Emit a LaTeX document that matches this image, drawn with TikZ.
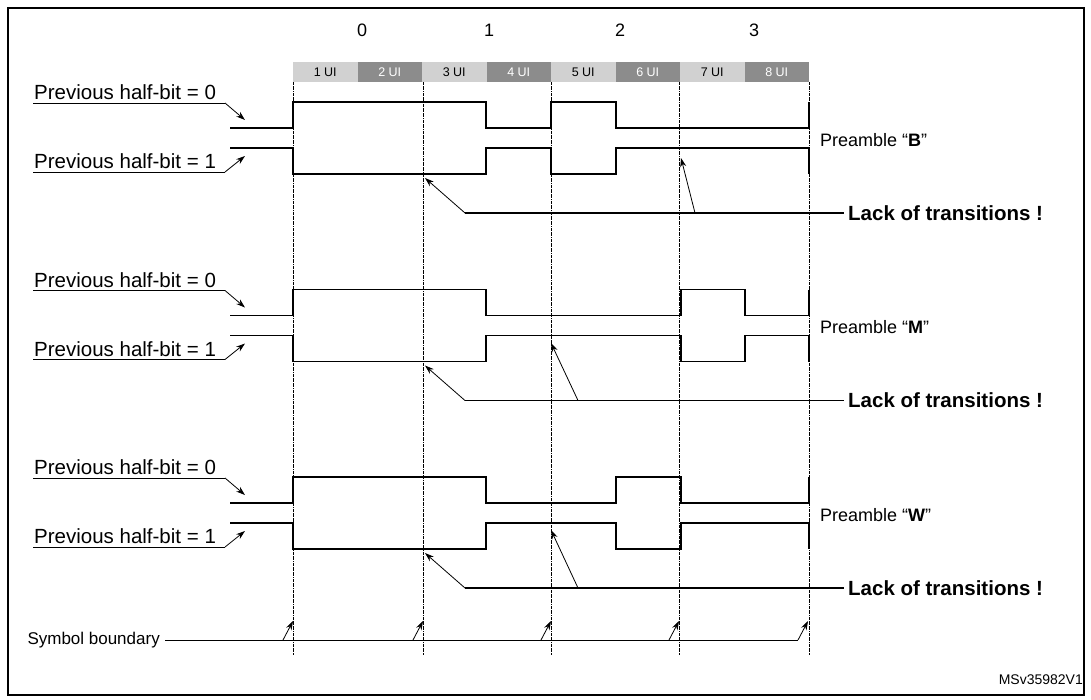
\documentclass[tikz,border=0pt]{standalone}
\usepackage{fontspec}
\setmainfont{Liberation Sans}
\usetikzlibrary{arrows.meta}
\begin{document}
\begin{tikzpicture}[x=1pt,y=-1pt,
  wave/.style={line width=1.5pt},
  lbl/.style={font=\fontsize{18}{21}\selectfont, inner sep=0},
  hb/.style={font=\fontsize{20.5}{23}\selectfont, inner sep=0},
  bnd/.style={densely dashdotted, line width=0.5pt},
  ptr/.style={line width=0.8pt,-{Stealth[length=9pt,width=6pt]}},
  lack/.style={line width=1.5pt},
  ui/.style={minimum width=64.5pt, minimum height=20pt, inner sep=0, font=\fontsize{12.5}{14}\selectfont},
]
\useasboundingbox (0,0) rectangle (1091,699);
\draw[line width=1.2pt] (8,8) rectangle (1084,695);
% bit labels
\foreach \t/\x in {0/362,1/489,2/620,3/754}
  \node[lbl] (b\t) at (\x,30) {\t};
% UI boxes
\foreach \i in {1,...,8}{
  \pgfmathsetmacro{\xx}{293+64.5*(\i-1)+32.25}
  \ifodd\i
    \node[ui, fill=black!18, text=black] (u\i) at (\xx,72) {\i{} UI};
  \else
    \node[ui, fill=black!45, text=white] (u\i) at (\xx,72) {\i{} UI};
  \fi}
% boundaries
\foreach \x [count=\k] in {293,423,551,679,809}{
  \coordinate (t\k) at (\x,82);
  \coordinate (e\k) at (\x,655);
  \draw[bnd] (t\k) -- (e\k);}
% sections
\foreach \s/\name/\hA/\hB [count=\k from 0] in
   {B/B/551/616, M/M/681/745, W/W/616/681}{
  \pgfmathsetmacro{\y}{102+187.5*\k}
  \pgfmathsetmacro{\yl}{\y+26}
  \pgfmathsetmacro{\yh}{\y+46}
  \pgfmathsetmacro{\yb}{\y+72}
  \draw[wave] (230,\yl) -- (293,\yl) -- (293,\y) -- (486,\y) -- (486,\yl) -- (\hA,\yl) -- (\hA,\y) -- (\hB,\y) -- (\hB,\yl) -- (809,\yl) -- (809,\y);
  \draw[wave] (230,\yh) -- (293,\yh) -- (293,\yb) -- (486,\yb) -- (486,\yh) -- (\hA,\yh) -- (\hA,\yb) -- (\hB,\yb) -- (\hB,\yh) -- (809,\yh) -- (809,\yb);
  \node[lbl, anchor=west] (p\s) at (820,\y+38) {Preamble “\textbf{\name}”};
  \node[hb, anchor=south west] (z\s) at (34,\y-2) {Previous half-bit = 0};
  \node[hb, anchor=south west] (o\s) at (34,\y+67) {Previous half-bit = 1};
  \coordinate (za\s) at (225,\y+1);
  \coordinate (oa\s) at (225,\y+70);
  \draw[line width=0.6pt] (33,\y+1) -- (za\s);
  \draw[ptr] (za\s) -- (245,\y+18);
  \draw[line width=0.6pt] (33,\y+70) -- (oa\s);
  \draw[ptr] (oa\s) -- (245,\y+54);
  \node[anchor=west, inner sep=0, font=\fontsize{20.5}{23}\selectfont\bfseries] (l\s) at (848,\y+111) {Lack of transitions !};
  \coordinate (la\s) at (465,\y+111);
  \draw[lack] (la\s) -- ([xshift=-4pt]l\s.west);
  \draw[ptr] (la\s) -- (425,\y+76);
}
\coordinate (x1) at (695,213); \draw[ptr] (x1) -- (681,158);
\coordinate (x2) at (578,400.5); \draw[ptr] (x2) -- (551,343);
\coordinate (x3) at (578,588); \draw[ptr] (x3) -- (551,530);
% symbol boundary
\node[anchor=east, inner sep=0, font=\fontsize{17}{20}\selectfont] (sb) at (160,640) {Symbol boundary};
\coordinate (se) at (798,640);
\draw[line width=0.6pt] (sb.east) ++(5,0) -- (se);
\foreach \x in {283,413,541,669,798}
  \draw[ptr] (\x,640) -- (\x+10,621);
\node[anchor=east, inner sep=0, font=\fontsize{14}{16}\selectfont] (ms) at (1083,680) {MSv35982V1};
\end{tikzpicture}
\end{document}
